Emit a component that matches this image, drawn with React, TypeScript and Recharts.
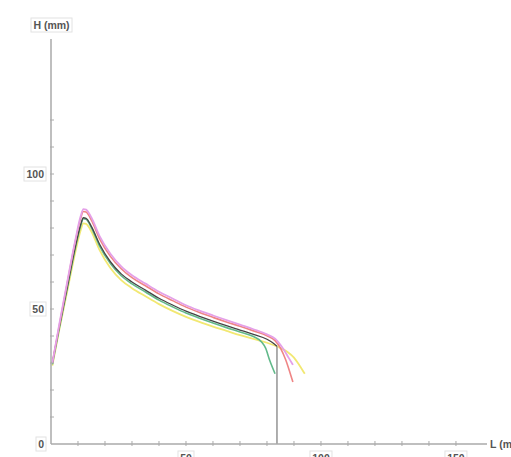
import React from "react";
import { LineChart, Line, XAxis, YAxis } from "recharts";

const MAIN_L = [0.5, 3, 6, 9, 11, 12, 13, 15, 18, 22, 26, 30, 35, 40, 45, 50, 55, 60, 65, 70, 75];

const MAGENTA_H = [30, 44, 60, 75.5, 84.4, 87, 86.8, 83.8, 77, 70.5, 65.8, 62.5, 59.4, 56.4, 53.9, 51.4, 49.4, 47.6, 45.9, 44.2, 42.5];
const MAGENTA_TAIL_L = [80, 83, 85.5, 88, 89.6];
const MAGENTA_TAIL_H = [40.6, 39, 36, 32, 29.3];

const RED_H = [30, 43.5, 59.5, 75, 83.6, 86.1, 85.9, 82.8, 76, 69.5, 64.9, 61.6, 58.6, 55.6, 53.1, 50.7, 48.7, 46.9, 45.2, 43.6, 41.9];
const RED_TAIL_L = [80, 83, 85, 87, 88.5, 89.6];
const RED_TAIL_H = [40.1, 38.3, 35.5, 31, 26.5, 23];

const BLACK_H = [30, 43, 58, 73, 81.3, 83.8, 83.6, 80.5, 74, 67.5, 63, 60, 57, 54, 51.5, 49.2, 47.3, 45.5, 43.8, 42.2, 40.6];
const BLACK_TAIL_L = [80, 82, 83.7];
const BLACK_TAIL_H = [38.8, 37.6, 36.2];

const GREEN_H = [29.5, 42.5, 57.5, 72.5, 80.8, 83.4, 83.2, 80, 73.3, 66.8, 62.3, 59.3, 56.3, 53.3, 50.8, 48.5, 46.6, 44.8, 43.1, 41.5, 39.8];
const GREEN_TAIL_L = [78, 79.5, 81, 83];
const GREEN_TAIL_H = [37.8, 35.5, 31, 26];

const YELLOW_H = [29, 42, 56.5, 71, 79.2, 81.7, 81.5, 78.6, 71.8, 65.2, 60.7, 57.7, 54.7, 51.8, 49.3, 47.1, 45.2, 43.5, 41.9, 40.3, 38.9];
const YELLOW_TAIL_L = [80, 84, 87.5, 90, 92, 94];
const YELLOW_TAIL_H = [37.5, 36, 34.2, 32, 29.2, 26];

const CUT_L = [83.7, 83.7];
const CUT_H = [36.2, 0];

const X_TICKS = [0, 10, 20, 30, 40, 50, 60, 70, 80, 90, 100, 110, 120, 130, 140, 150];
const X_LABELS = [50, 100, 150];
const Y_TICKS = [0, 10, 20, 30, 40, 50, 60, 70, 80, 90, 100, 110, 120];
const Y_LABELS = [0, 50, 100];

const build = (ls: number[], hs: number[]) => ls.map((L, i) => ({ L, H: hs[i] }));

const magenta = build([...MAIN_L, ...MAGENTA_TAIL_L], [...MAGENTA_H, ...MAGENTA_TAIL_H]);
const red = build([...MAIN_L, ...RED_TAIL_L], [...RED_H, ...RED_TAIL_H]);
const black = build([...MAIN_L, ...BLACK_TAIL_L], [...BLACK_H, ...BLACK_TAIL_H]);
const green = build([...MAIN_L, ...GREEN_TAIL_L], [...GREEN_H, ...GREEN_TAIL_H]);
const yellow = build([...MAIN_L, ...YELLOW_TAIL_L], [...YELLOW_H, ...YELLOW_TAIL_H]);
const cut = build(CUT_L, CUT_H);

const FONT = "'Liberation Sans', Arial, sans-serif";
const AXIS = "#aaaaaa";
const TXT = "#555555";

const Boxed = ({ x, y, text, anchor }: { x: number; y: number; text: string; anchor: "middle" | "end" }) => {
  const w = text.length * 6 + 4;
  const bx = anchor === "middle" ? x - w / 2 : x - w;
  return (
    <g>
      <rect x={bx} y={y - 7} width={w} height={14} fill="#fff" stroke="#e2e2e2" strokeWidth={1} />
      <text
        x={anchor === "middle" ? x : x - 2}
        y={y}
        textAnchor={anchor}
        dominantBaseline="central"
        fontFamily={FONT}
        fontSize={10.5}
        fontWeight="bold"
        fill={TXT}
      >
        {text}
      </text>
    </g>
  );
};

const XTick = (props: any) => {
  const { x, y, payload } = props;
  const v = payload.value;
  return (
    <g>
      {v !== 0 && <line x1={x} x2={x} y1={y - 3} y2={y + 2} stroke={AXIS} strokeWidth={1} />}
      {X_LABELS.includes(v) && <Boxed x={x} y={y + 14} text={String(v)} anchor="middle" />}
    </g>
  );
};

const YTick = (props: any) => {
  const { x, y, payload } = props;
  const v = payload.value;
  return (
    <g>
      {v !== 0 && <line x1={x - 1} x2={x + 3} y1={y} y2={y} stroke={AXIS} strokeWidth={1} />}
      {Y_LABELS.includes(v) && <Boxed x={x - 5} y={y} text={String(v)} anchor="end" />}
    </g>
  );
};

export default function App() {
  return (
    <div style={{ position: "absolute", left: 0, top: 0, width: 511, height: 457, background: "#fff", overflow: "hidden" }}>
      <LineChart width={511} height={457} margin={{ top: 39, right: 24, bottom: 0, left: 21 }}>
        <XAxis
          type="number"
          dataKey="L"
          domain={[0, 161.5]}
          ticks={X_TICKS}
          interval={0}
          height={13}
          tickSize={0}
          tickMargin={0}
          tickLine={false}
          axisLine={{ stroke: AXIS, strokeWidth: 1.5 }}
          tick={<XTick />}
          allowDataOverflow
        />
        <YAxis
          type="number"
          dataKey="H"
          domain={[0, 150]}
          ticks={Y_TICKS}
          interval={0}
          width={30}
          tickSize={0}
          tickMargin={0}
          tickLine={false}
          axisLine={{ stroke: AXIS, strokeWidth: 1.5 }}
          tick={<YTick />}
          allowDataOverflow
        />
        <Line data={yellow} dataKey="H" type="monotone" stroke="#f2e872" strokeWidth={1.8} dot={false} isAnimationActive={false} />
        <Line data={green} dataKey="H" type="monotone" stroke="#62b98a" strokeWidth={1.6} dot={false} isAnimationActive={false} />
        <Line data={cut} dataKey="H" type="linear" stroke="#9a9a9a" strokeWidth={1.6} dot={false} isAnimationActive={false} />
        <Line data={black} dataKey="H" type="monotone" stroke="#454545" strokeWidth={1.3} dot={false} isAnimationActive={false} />
        <Line data={red} dataKey="H" type="monotone" stroke="#ef8585" strokeWidth={1.6} dot={false} isAnimationActive={false} />
        <Line data={magenta} dataKey="H" type="monotone" stroke="#e4a0e8" strokeWidth={1.8} dot={false} isAnimationActive={false} />
      </LineChart>
      <svg width={511} height={457} style={{ position: "absolute", left: 0, top: 0, pointerEvents: "none" }}>
        <g>
          <rect x={31} y={18} width={41} height={14} fill="#fff" stroke="#e2e2e2" strokeWidth={1} />
          <text x={51.5} y={25} textAnchor="middle" dominantBaseline="central" fontFamily={FONT} fontSize={10.5} fontWeight="bold" fill={TXT}>
            H (mm)
          </text>
          <text x={490} y={444} dominantBaseline="central" fontFamily={FONT} fontSize={10.5} fontWeight="bold" fill={TXT}>
            L (mm)
          </text>
        </g>
      </svg>
    </div>
  );
}
